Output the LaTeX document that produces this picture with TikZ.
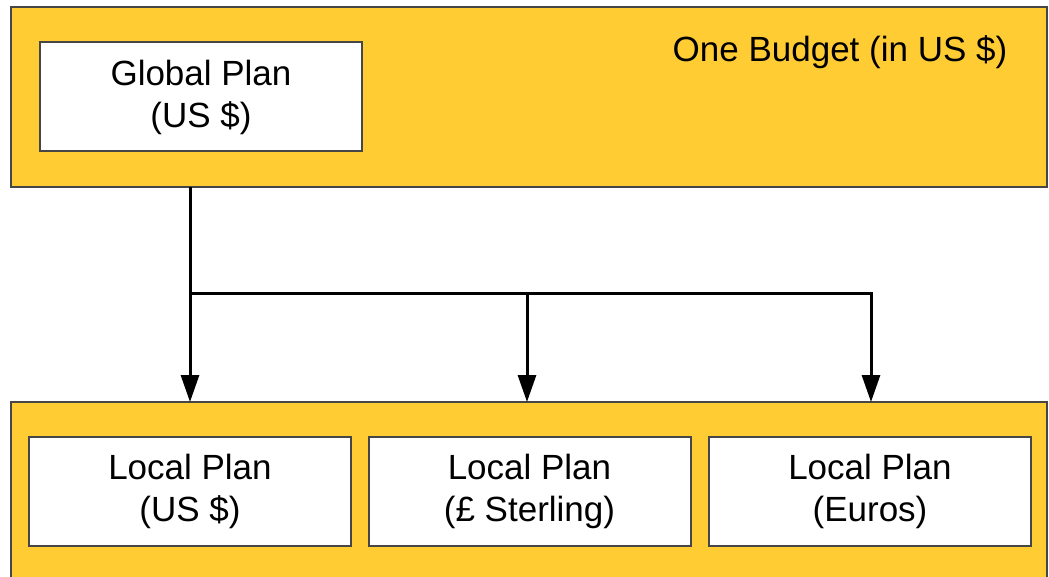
\documentclass[tikz,border=0pt]{standalone}
\usepackage{fontspec}
\setmainfont{Liberation Sans}
\usetikzlibrary{arrows.meta}
\definecolor{budgetyellow}{RGB}{255,204,51}
\definecolor{edgegray}{RGB}{70,70,70}
\begin{document}
\begin{tikzpicture}[x=0.5pt,y=-0.5pt]
    \tikzstyle{area}=[draw=edgegray,line width=1pt,fill=budgetyellow]
    \tikzstyle{plan}=[draw=edgegray,line width=1pt,fill=white,align=center,inner sep=0pt,
        minimum width=161pt,minimum height=54.5pt,font=\fontsize{17.5}{21}\selectfont]
    \tikzstyle{link}=[line width=1.5pt,-{Triangle[length=13.5pt,width=9pt]}]

    \useasboundingbox (0,0) rectangle (1049,577);
    \clip (0,0) rectangle (1049,577);

    \draw[area] (11,7) rectangle (1047,187);
    \draw[area] (11,402) rectangle (1047,600);
    \coordinate (budget) at (190,187);
    \coordinate (split) at (190,293);

    \node[plan] (global) at (201,97) {Global Plan\\(US \$)};
    \node[anchor=base,font=\fontsize{17.5}{21}\selectfont] (title) at (840,62) {One Budget (in US \$)};

    \node[plan] (local_us) at (190,491.5) {Local Plan\\(US \$)};
    \node[plan] (local_gb) at (529.5,491.5) {Local Plan\\(£ Sterling)};
    \node[plan] (local_eu) at (870,491.5) {Local Plan\\(Euros)};

    \coordinate (in_us) at (190,402);
    \coordinate (in_gb) at (527,402);
    \coordinate (in_eu) at (871,402);

    \draw[link] (budget) -- (in_us);
    \draw[link] (split) -| (in_gb);
    \draw[link] (split) -| (in_eu);
\end{tikzpicture}
\end{document}
